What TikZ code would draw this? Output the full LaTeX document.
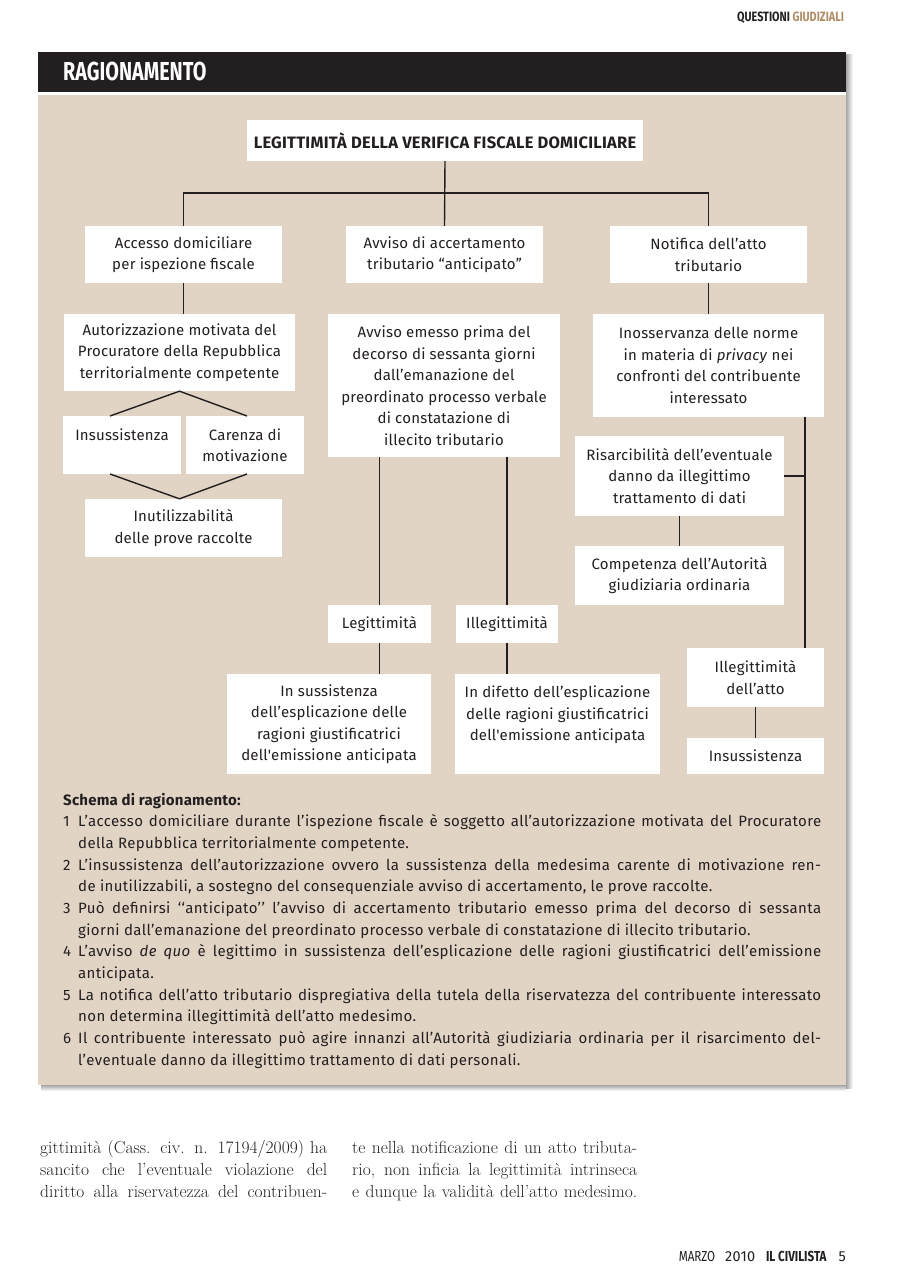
\documentclass[tikz,border=0pt]{standalone}
\usepackage{fontspec}
\newfontfamily\dsans[LetterSpace=1.5]{Fira Sans}
\newfontfamily\dlist[LetterSpace=2.5]{Fira Sans}
\newfontfamily\dcond[FakeStretch=0.8]{Fira Sans}
\newfontfamily\dbar[FakeStretch=0.76]{Fira Sans}
\usetikzlibrary{calc}
\definecolor{beige}{HTML}{E2D4C4}
\definecolor{ink}{HTML}{231F20}
\definecolor{tanc}{HTML}{B08D66}
\tikzset{
  bx/.style={fill=white, inner sep=0pt, align=center, text=ink,
    font=\dsans\fontsize{15}{21.5}\selectfont},
  ln/.style={draw=ink, line width=1.4pt},
  li/.style={anchor=base west, inner sep=0pt, text=ink,
    font=\dlist\fontsize{15}{21.6}\selectfont},
  ser/.style={anchor=base west, inner sep=0pt, text=ink,
    font=\fontsize{17.5}{22}\selectfont},
}
\newcommand{\jl}[2]{\makebox[#1pt][s]{#2}}
\begin{document}
\begin{tikzpicture}[x=1pt,y=-1pt]
\useasboundingbox (0,0) rectangle (897,1281);
% header
\node[anchor=base west, inner sep=0pt, font=\dcond\fontsize{13.5}{14}\selectfont\bfseries] (hdr) at (737,22)
  {\textcolor{ink}{QUESTIONI} \textcolor{tanc}{GIUDIZIALI}};
% shadows
\shade[left color=black!35, right color=white] (846,55) rectangle (853,1088);
\shade[top color=black!35, bottom color=white] (41,1085) rectangle (846,1091);
% bar and panel
\fill[ink] (38,52) rectangle (846,92);
\node[anchor=base west, inner sep=0pt, text=white, font=\dbar\fontsize{26}{28}\selectfont\bfseries] (bartitle) at (63,81) {RAGIONAMENTO};
\fill[beige] (38,95) rectangle (846,1085);

% diagram nodes
\node[bx, minimum width=396pt, minimum height=41pt, font=\dsans\fontsize{16.5}{18}\selectfont\bfseries] (title) at (445,140.5)
  {LEGITTIMITÀ DELLA VERIFICA FISCALE DOMICILIARE};
\node[bx, minimum width=197pt, minimum height=57pt] (A) at (183.5,254.5) {Accesso domiciliare\\per ispezione fiscale};
\node[bx, minimum width=197pt, minimum height=57pt] (B) at (444.5,254.5) {Avviso di accertamento\\tributario “anticipato”};
\node[bx, minimum width=197pt, minimum height=57pt] (C) at (708.5,254.5) {Notifica dell’atto\\tributario};
\node[bx, minimum width=231pt, minimum height=77pt] (A2) at (179.5,352.5)
  {Autorizzazione motivata del\\Procuratore della Repubblica\\territorialmente competente};
\node[bx, minimum width=232pt, minimum height=143pt] (B2) at (444,385.5)
  {Avviso emesso prima del\\decorso di sessanta giorni\\dall’emanazione del\\preordinato processo verbale\\di constatazione di\\illecito tributario};
\node[bx, minimum width=231pt, minimum height=103pt] (C2) at (708.5,365.5)
  {Inosservanza delle norme\\in materia di \textit{privacy} nei\\confronti del contribuente\\interessato};
\node[bx, minimum width=118pt, minimum height=58pt] (Ins) at (122,445) {Insussistenza\\\mbox{}};
\node[bx, minimum width=118pt, minimum height=58pt] (Car) at (245,445) {Carenza di\\motivazione};
\node[bx, minimum width=197pt, minimum height=58pt] (Inut) at (183.5,528) {Inutilizzabilità\\delle prove raccolte};
\node[bx, minimum width=209pt, minimum height=80pt] (Ris) at (679.5,476)
  {Risarcibilità dell’eventuale\\danno da illegittimo\\trattamento di dati};
\node[bx, minimum width=209pt, minimum height=59pt] (Comp) at (679.5,575.5)
  {Competenza dell’Autorità\\giudiziaria ordinaria};
\node[bx, minimum width=103pt, minimum height=38pt] (Leg) at (379.5,624) {Legittimità};
\node[bx, minimum width=102pt, minimum height=38pt] (Illeg) at (507,624) {Illegittimità};
\node[bx, minimum width=204pt, minimum height=100pt] (InSus) at (329,724)
  {In sussistenza\\dell’esplicazione delle\\ragioni giustificatrici\\dell'emissione anticipata};
\node[bx, minimum width=205pt, minimum height=100pt] (InDif) at (557.5,724)
  {In difetto dell’esplicazione\\delle ragioni giustificatrici\\dell'emissione anticipata\\\mbox{}};
\node[bx, minimum width=137pt, minimum height=59pt] (IllAtto) at (755.5,677.5) {Illegittimità\\dell’atto};
\node[bx, minimum width=137pt, minimum height=36pt] (Insus2) at (755.5,756) {Insussistenza};

% connectors
\coordinate (hub) at (445,193);
\draw[ln] (title.south) -- (B.north);
\draw[ln] (A.north) -- (A.north |- hub) -- (C.north |- hub) -- (C.north);
\draw[ln] (A.south) -- (A.south |- A2.north);
\draw[ln] (C.south) -- (C2.north);
\coordinate (dl) at (110,416);
\coordinate (dr) at (247,416);
\coordinate (ul) at (110,474);
\coordinate (ur) at (247,474);
\draw[ln] (dl) -- (A2.south) -- (dr);
\draw[ln] (ul) -- (A2.south |- Inut.north) -- (ur);
\draw[ln] (Leg.north |- B2.south) -- (Leg.north);
\draw[ln] (Illeg.north |- B2.south) -- (Illeg.north);
\draw[ln] (Leg.south) -- (Leg.south |- InSus.north);
\draw[ln] (Illeg.south) -- (Illeg.south |- InDif.north);
\coordinate (rtop) at (805,417);
\coordinate (rbot) at (805,648);
\draw[ln] (rtop) -- (rbot);
\draw[ln] (Ris.east) -- (Ris.east -| rtop);
\draw[ln] (Ris.south) -- (Comp.north);
\draw[ln] (IllAtto.south) -- (Insus2.north);

% list
\node[li, font=\dsans\fontsize{15}{21.6}\selectfont\bfseries] (s0) at (63,805) {Schema di ragionamento:};
\node[li] (n1) at (63,826.6) {1};
\node[li] (t1a) at (78,826.6) {\jl{743}{L’accesso domiciliare durante l’ispezione fiscale è soggetto all’autorizzazione motivata del Procuratore}};
\node[li] (t1b) at (78,848.3) {della Repubblica territorialmente competente.};
\node[li] (n2) at (63,870) {2};
\node[li] (t2a) at (78,870) {\jl{743}{L’insussistenza dell’autorizzazione ovvero la sussistenza della medesima carente di motivazione ren-}};
\node[li] (t2b) at (78,891.6) {de inutilizzabili, a sostegno del consequenziale avviso di accertamento, le prove raccolte.};
\node[li] (n3) at (63,913.3) {3};
\node[li] (t3a) at (78,913.3) {\jl{743}{Può definirsi ‘‘anticipato’’ l’avviso di accertamento tributario emesso prima del decorso di sessanta}};
\node[li] (t3b) at (78,935) {giorni dall’emanazione del preordinato processo verbale di constatazione di illecito tributario.};
\node[li] (n4) at (63,956.6) {4};
\node[li] (t4a) at (78,956.6) {\jl{743}{L’avviso \textit{de quo} è legittimo in sussistenza dell’esplicazione delle ragioni giustificatrici dell’emissione}};
\node[li] (t4b) at (78,978.3) {anticipata.};
\node[li] (n5) at (63,1000) {5};
\node[li] (t5a) at (78,1000) {\jl{743}{La notifica dell’atto tributario dispregiativa della tutela della riservatezza del contribuente interessato}};
\node[li] (t5b) at (78,1021.6) {non determina illegittimità dell’atto medesimo.};
\node[li] (n6) at (63,1043.3) {6};
\node[li] (t6a) at (78,1043.3) {\jl{743}{Il contribuente interessato può agire innanzi all’Autorità giudiziaria ordinaria per il risarcimento del-}};
\node[li] (t6b) at (78,1065) {l’eventuale danno da illegittimo trattamento di dati personali.};

% body text
\node[ser] (c1a) at (40,1153) {\jl{287}{gittimità (Cass. civ. n. 17194/2009) ha}};
\node[ser] (c1b) at (40,1175) {\jl{287}{sancito che l’eventuale violazione del}};
\node[ser] (c1c) at (40,1197) {\jl{287}{diritto alla riservatezza del contribuen-}};
\node[ser] (c2a) at (352,1153) {\jl{285}{te nella notificazione di un atto tributa-}};
\node[ser] (c2b) at (352,1175) {\jl{285}{rio, non inficia la legittimità intrinseca}};
\node[ser] (c2c) at (352,1197) {\jl{285}{e dunque la validità dell’atto medesimo.}};

% footer
\node[anchor=base east, inner sep=0pt, text=ink, font=\fontsize{14.5}{15}\selectfont] (foot) at (846,1261)
  {{\dcond MARZO}\hspace{10pt}{\dsans 2010}\hspace{11pt}{\dcond\bfseries IL CIVILISTA}\hspace{12pt}{\dsans 5}};
\end{tikzpicture}
\end{document}
